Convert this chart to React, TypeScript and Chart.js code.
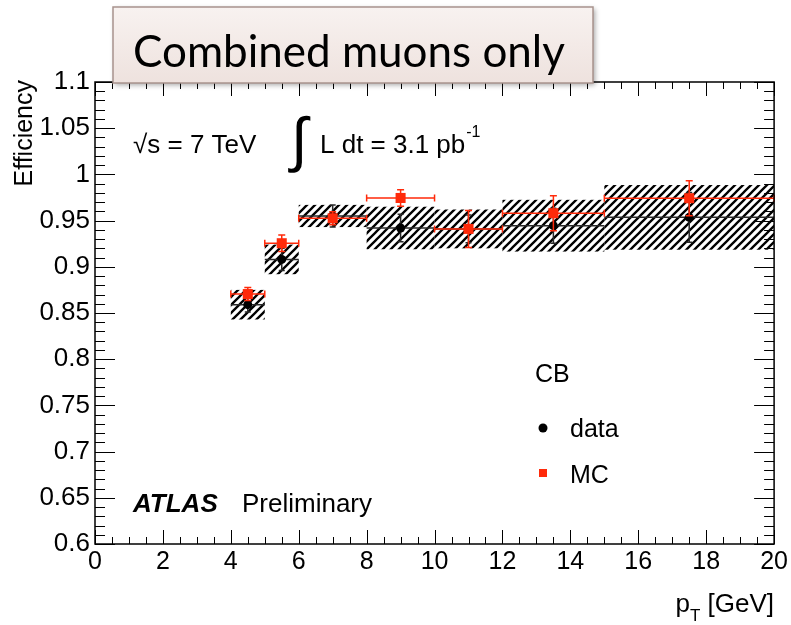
import React, { useEffect, useRef } from "react";
import { Chart, registerables } from "chart.js";

Chart.register(...registerables);

// ---- data ----
const binLow = [4, 5, 6, 8, 10, 12, 15];
const binHigh = [5, 6, 8, 10, 12, 15, 20];
const binCenter = [4.5, 5.5, 7, 9, 11, 13.5, 17.5];
const dataEff = [0.859, 0.908, 0.955, 0.942, 0.941, 0.9445, 0.9535];
const dataStat = [0.008, 0.012, 0.012, 0.015, 0.015, 0.019, 0.027];
const dataSyst = [0.016, 0.016, 0.012, 0.023, 0.021, 0.028, 0.035];
const mcEff = [0.8705, 0.9255, 0.9525, 0.9745, 0.941, 0.958, 0.9742];
const mcErr = [0.007, 0.009, 0.007, 0.009, 0.02, 0.019, 0.019];

const xMin = 0, xMax = 20, xMajor = 2, xMinor = 0.5;
const yMin = 0.6, yMax = 1.1, yMajor = 0.05, yMinor = 0.01;

const RED = "#ff2a0a";
const SANS = '"Liberation Sans", Arial, sans-serif';

function makeHatch(ctx: CanvasRenderingContext2D) {
  const c = document.createElement("canvas");
  c.width = 8;
  c.height = 8;
  const g = c.getContext("2d")!;
  g.strokeStyle = "#000";
  g.lineWidth = 2.3;
  g.beginPath();
  g.moveTo(-2, 10);
  g.lineTo(10, -2);
  g.moveTo(-2, 2);
  g.lineTo(2, -2);
  g.moveTo(6, 10);
  g.lineTo(10, 6);
  g.stroke();
  return ctx.createPattern(c, "repeat");
}

const atlasPlugin = {
  id: "atlasDecor",
  beforeDatasetsDraw(chart: any) {
    const { ctx, chartArea: a, scales } = chart;
    const x = scales.x, y = scales.y;
    ctx.save();
    ctx.beginPath();
    ctx.rect(a.left, a.top, a.right - a.left, a.bottom - a.top);
    ctx.clip();
    ctx.fillStyle = makeHatch(ctx);
    for (let i = 0; i < binLow.length; i++) {
      const x0 = x.getPixelForValue(binLow[i]);
      const x1 = x.getPixelForValue(binHigh[i]);
      const y0 = y.getPixelForValue(dataEff[i] + dataSyst[i]);
      const y1 = y.getPixelForValue(dataEff[i] - dataSyst[i]);
      ctx.fillRect(x0, y0, x1 - x0, y1 - y0);
    }
    ctx.restore();
  },
  beforeDatasetDraw(chart: any, args: any) {
    const { ctx, scales } = chart;
    const x = scales.x, y = scales.y;
    ctx.save();
    if (args.index === 0) {
      ctx.strokeStyle = "#2a2a2a";
      ctx.lineWidth = 1.5;
      for (let i = 0; i < binLow.length; i++) {
        const x0 = x.getPixelForValue(binLow[i]);
        const x1 = x.getPixelForValue(binHigh[i]);
        const xc = x.getPixelForValue(binCenter[i]);
        const yc = y.getPixelForValue(dataEff[i]);
        const yt = y.getPixelForValue(dataEff[i] + dataStat[i]);
        const yb = y.getPixelForValue(dataEff[i] - dataStat[i]);
        ctx.beginPath();
        ctx.moveTo(x0, yc);
        ctx.lineTo(x1, yc);
        ctx.moveTo(xc, yt);
        ctx.lineTo(xc, yb);
        ctx.moveTo(xc - 3, yt);
        ctx.lineTo(xc + 3, yt);
        ctx.moveTo(xc - 3, yb);
        ctx.lineTo(xc + 3, yb);
        ctx.stroke();
      }
    } else if (args.index === 1) {
      ctx.strokeStyle = RED;
      ctx.lineWidth = 1.5;
      for (let i = 0; i < binLow.length; i++) {
        const x0 = x.getPixelForValue(binLow[i]);
        const x1 = x.getPixelForValue(binHigh[i]);
        const xc = x.getPixelForValue(binCenter[i]);
        const yc = y.getPixelForValue(mcEff[i]);
        const yt = y.getPixelForValue(mcEff[i] + mcErr[i]);
        const yb = y.getPixelForValue(mcEff[i] - mcErr[i]);
        ctx.beginPath();
        ctx.moveTo(x0, yc);
        ctx.lineTo(x1, yc);
        ctx.moveTo(x0, yc - 3.5);
        ctx.lineTo(x0, yc + 3.5);
        ctx.moveTo(x1, yc - 3.5);
        ctx.lineTo(x1, yc + 3.5);
        ctx.moveTo(xc, yt);
        ctx.lineTo(xc, yb);
        ctx.moveTo(xc - 3.5, yt);
        ctx.lineTo(xc + 3.5, yt);
        ctx.moveTo(xc - 3.5, yb);
        ctx.lineTo(xc + 3.5, yb);
        ctx.stroke();
      }
    }
    ctx.restore();
  },
  afterDraw(chart: any) {
    const { ctx, chartArea: a, scales } = chart;
    const x = scales.x, y = scales.y;
    ctx.save();
    // frame
    ctx.strokeStyle = "#000";
    ctx.lineWidth = 1.5;
    ctx.strokeRect(a.left, a.top, a.right - a.left, a.bottom - a.top);
    // ticks
    ctx.lineWidth = 1;
    ctx.beginPath();
    const nx = Math.round((xMax - xMin) / xMinor);
    const perX = Math.round(xMajor / xMinor);
    for (let i = 0; i <= nx; i++) {
      const px = Math.round(x.getPixelForValue(xMin + i * xMinor)) + 0.5;
      const len = i % perX === 0 ? 14 : 7;
      ctx.moveTo(px, a.bottom);
      ctx.lineTo(px, a.bottom - len);
      ctx.moveTo(px, a.top);
      ctx.lineTo(px, a.top + len);
    }
    const ny = Math.round((yMax - yMin) / yMinor);
    const perY = Math.round(yMajor / yMinor);
    for (let i = 0; i <= ny; i++) {
      const py = Math.round(y.getPixelForValue(yMin + i * yMinor)) + 0.5;
      const len = i % perY === 0 ? 20 : 10;
      ctx.moveTo(a.left, py);
      ctx.lineTo(a.left + len, py);
      ctx.moveTo(a.right, py);
      ctx.lineTo(a.right - len, py);
    }
    ctx.stroke();

    ctx.fillStyle = "#000";
    ctx.textBaseline = "alphabetic";
    // y title
    ctx.save();
    ctx.font = `25px ${SANS}`;
    ctx.translate(32, 80);
    ctx.rotate(-Math.PI / 2);
    ctx.textAlign = "right";
    ctx.fillText("Efficiency", 0, 0);
    ctx.restore();

    // x title p_T [GeV]
    ctx.textAlign = "left";
    ctx.font = `26px ${SANS}`;
    const wG = ctx.measureText(" [GeV]").width;
    const xG = a.right - wG;
    ctx.fillText(" [GeV]", xG, 612);
    ctx.font = `17px ${SANS}`;
    const wT = ctx.measureText("T").width;
    const xT = xG - wT;
    ctx.fillText("T", xT, 621);
    ctx.font = `26px ${SANS}`;
    const wp = ctx.measureText("p").width;
    ctx.fillText("p", xT - wp, 612);

    // energy / lumi
    ctx.font = `26px ${SANS}`;
    ctx.fillText("\u221As = 7 TeV", 133, 153);
    ctx.font = `60px ${SANS}`;
    ctx.fillText("\u222B", 291, 160);
    ctx.font = `26px ${SANS}`;
    ctx.fillText("L dt = 3.1 pb", 320, 153);
    const wl = ctx.measureText("L dt = 3.1 pb").width;
    ctx.font = `16px ${SANS}`;
    ctx.fillText("-1", 320 + wl + 1, 137);

    // ATLAS Preliminary
    ctx.font = `italic bold 26px ${SANS}`;
    ctx.fillText("ATLAS", 133, 512);
    ctx.font = `26px ${SANS}`;
    ctx.fillText("Preliminary", 242, 512);

    // legend
    ctx.font = `25px ${SANS}`;
    ctx.fillText("CB", 535, 382);
    ctx.fillText("data", 570, 437);
    ctx.fillText("MC", 570, 483);
    ctx.beginPath();
    ctx.arc(543, 428, 4.5, 0, Math.PI * 2);
    ctx.fill();
    ctx.fillStyle = RED;
    ctx.fillRect(539, 469, 8, 8);

    // title box
    ctx.save();
    ctx.shadowColor = "rgba(0,0,0,0.35)";
    ctx.shadowBlur = 5;
    ctx.shadowOffsetX = 2;
    ctx.shadowOffsetY = 2;
    const grad = ctx.createLinearGradient(0, 7, 0, 83);
    grad.addColorStop(0, "#f8f2f0");
    grad.addColorStop(1, "#eee2de");
    ctx.fillStyle = grad;
    ctx.fillRect(113, 7, 480, 76);
    ctx.restore();
    ctx.strokeStyle = "#a8938d";
    ctx.lineWidth = 1.5;
    ctx.strokeRect(113, 7, 480, 76);
    ctx.fillStyle = "#000";
    ctx.font = `100px Lato, "Open Sans", sans-serif`;
    const tw = ctx.measureText("Combined muons only").width;
    const fs = (100 * 432) / tw;
    ctx.font = `${fs}px Lato, "Open Sans", sans-serif`;
    ctx.fillText("Combined muons only", 133, 67);

    ctx.restore();
  },
};

export default function App() {
  const ref = useRef<HTMLCanvasElement | null>(null);
  useEffect(() => {
    document.body.style.margin = "0";
    const canvas = ref.current!;
    const chart = new Chart(canvas, {
      type: "scatter",
      data: {
        datasets: [
          {
            label: "data",
            data: binCenter.map((c, i) => ({ x: c, y: dataEff[i] })),
            pointStyle: "circle",
            pointRadius: 4.5,
            pointBackgroundColor: "#000",
            pointBorderWidth: 0,
            order: 2,
          },
          {
            label: "MC",
            data: binCenter.map((c, i) => ({ x: c, y: mcEff[i] })),
            pointStyle: "rect",
            pointRadius: 7.1,
            pointBackgroundColor: RED,
            pointBorderWidth: 0,
            order: 1,
          },
        ],
      },
      options: {
        animation: false,
        responsive: false,
        events: [],
        layout: { padding: { top: 82, right: 16, left: 0, bottom: 0 } },
        plugins: { legend: { display: false }, tooltip: { enabled: false } },
        scales: {
          x: {
            type: "linear",
            min: xMin,
            max: xMax,
            grid: { display: false, drawTicks: false },
            border: { display: false },
            ticks: {
              stepSize: xMajor,
              padding: 3,
              color: "#000",
              font: { family: SANS, size: 25 },
              maxRotation: 0,
              autoSkip: false,
            },
            afterFit: (s: any) => {
              s.height = 81;
            },
          },
          y: {
            type: "linear",
            min: yMin,
            max: yMax,
            grid: { display: false, drawTicks: false },
            border: { display: false },
            ticks: {
              stepSize: yMajor,
              padding: 5,
              color: "#000",
              font: { family: SANS, size: 26 },
              autoSkip: false,
              callback: (v: any) => String(Math.round(Number(v) * 100) / 100),
            },
            afterFit: (s: any) => {
              s.width = 95;
            },
          },
        },
      },
      plugins: [atlasPlugin],
    });
    return () => chart.destroy();
  }, []);
  return (
    <div style={{ position: "absolute", left: 0, top: 0, width: 791, height: 625, background: "#fff" }}>
      <canvas ref={ref} width={791} height={625} style={{ display: "block" }} />
    </div>
  );
}
